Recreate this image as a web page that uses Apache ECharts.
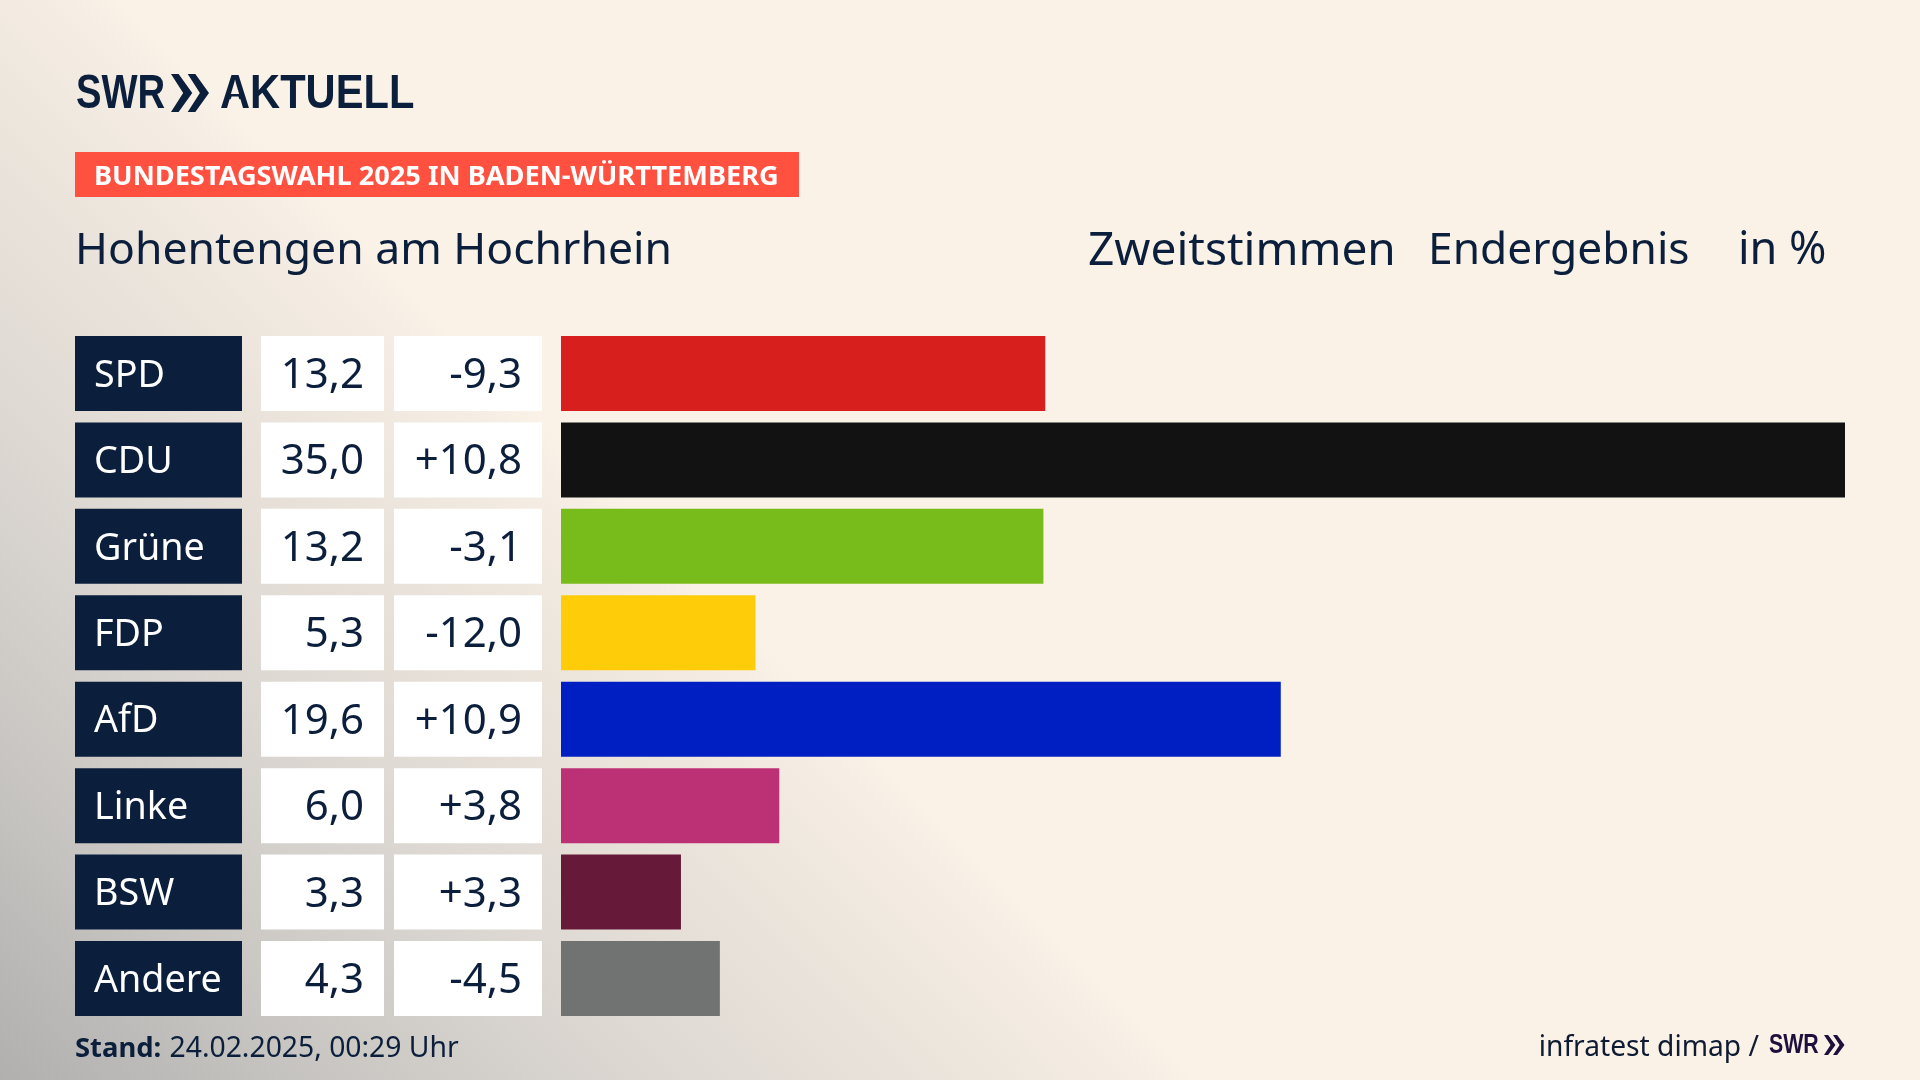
<!DOCTYPE html>
<html><head><meta charset="utf-8">
<style>
html,body{margin:0;padding:0;width:1920px;height:1080px;overflow:hidden;background:#FAF2E7}
body{background:linear-gradient(45deg,#B1B0AF 0px,#CDCAC6 283px,#DFDAD4 495px,#E9E2DA 636px,#F6EEE4 813px,#FAF2E7 848px)}
#c{width:1920px;height:1080px}
</style>
<script src="https://cdn.jsdelivr.net/npm/echarts@6/dist/echarts.min.js"></script>
</head><body><div id="c"></div>
<script>
const parties=['SPD','CDU','Grüne','FDP','AfD','Linke','BSW','Andere'];
const shares=[13.2,35.0,13.15,5.3,19.62,5.95,3.27,4.33];
const shareLabels=['13,2','35,0','13,2','5,3','19,6','6,0','3,3','4,3'];
const changeLabels=['-9,3','+10,8','-3,1','-12,0','+10,9','+3,8','+3,3','-4,5'];
const barColors=['#D71F1D','#121212','#78BC1B','#FFCC0A','#001FC2','#BC3175','#661938','#717272'];
const cells=[1,1,1,1,1,1,1,1];

const navy='#0B1F3C', FONT='"Noto Sans"', LOGO='"Liberation Sans"';
const top0=330.3, H=691.4, BW=75;
const columns=[[75,242],[261,384],[394,542],[561,1845]];
const grids=columns.map(c=>({left:c[0],width:c[1]-c[0],top:top0,height:H}));
const xAxes=columns.map((c,i)=>({gridIndex:i,type:'value',min:0,max:i===3?35:1,show:false}));
const yAxes=columns.map((c,i)=>({gridIndex:i,type:'category',data:parties,inverse:true,show:false}));
function cell(i,color,labelColor,pos,dist,texts,size){
  return {type:'bar',xAxisIndex:i,yAxisIndex:i,data:cells,barWidth:BW,silent:true,animation:false,
    itemStyle:{color},
    label:{show:true,position:pos,distance:dist,offset:[0,2.5],color:labelColor,fontFamily:FONT,fontSize:size,
      formatter:p=>texts[p.dataIndex]}};
}
function chevrons(x,y,w,h,fill){
  const one=x0=>({type:'polygon',silent:true,shape:{points:[[x0,y],[x0+w*0.2,y],[x0+w*0.56,y+h/2],[x0+w*0.2,y+h],[x0,y+h],[x0+w*0.32,y+h/2]]},style:{fill}});
  return [one(x),one(x+w*0.44)];
}
function txt(x,y,text,size,weight,family,fill,align,scaleX){
  return {type:'text',silent:true,x,y,scaleX:scaleX||1,style:{text,fontSize:size,fontWeight:weight,fontFamily:family,fill,align:align||'left',verticalAlign:'middle'}};
}
const chart=echarts.init(document.getElementById('c'),null,{renderer:'canvas'});
chart.setOption({
  animation:false,
  backgroundColor:'transparent',
  grid:grids,xAxis:xAxes,yAxis:yAxes,
  title:{text:'Hohentengen am Hochrhein',left:75,top:229,padding:0,textStyle:{fontFamily:FONT,fontSize:44.5,fontWeight:'normal',color:navy}},
  series:[
    cell(0,navy,'#FFFFFF','insideLeft',19,parties,37.7),
    cell(1,'#FFFFFF',navy,'insideRight',20,shareLabels,42),
    cell(2,'#FFFFFF',navy,'insideRight',20,changeLabels,42),
    {type:'bar',xAxisIndex:3,yAxisIndex:3,barWidth:BW,silent:true,animation:false,
     data:shares.map((v,i)=>({value:v,itemStyle:{color:barColors[i]}}))}
  ],
  graphic:[
    txt(76,94,'SWR',49,'bold',LOGO,navy,'left',0.78),
    ...chevrons(171,74,38,38,navy),
    txt(220,94,'AKTUELL',49,'bold',LOGO,navy,'left',0.85),
    {type:'polygon',silent:true,shape:{points:[[231.6,96.5],[238.4,96.5],[241,104],[229,104]]},style:{fill:'#FAF2E7'}},
    {type:'rect',silent:true,shape:{x:75,y:152,width:724,height:45},style:{fill:'#FF5040'}},
    txt(94,177.5,'BUNDESTAGSWAHL 2025 IN BADEN-WÜRTTEMBERG',27.2,'bold',FONT,'#FFFFFF'),
    txt(1088,251.5,'Zweitstimmen',46,'normal',FONT,navy),
    txt(1428,251.5,'Endergebnis',44.3,'normal',FONT,navy),
    txt(1738,251.5,'in %',45,'normal',FONT,navy),
    {type:'text',silent:true,x:75,y:1049,style:{text:'{b|Stand:} {r|24.02.2025, 00:29 Uhr}',verticalAlign:'middle',
      rich:{b:{fontFamily:FONT,fontSize:27.4,fontWeight:'bold',fill:navy},r:{fontFamily:FONT,fontSize:28.3,fill:navy,padding:[0,0,0,5]}}}},
    txt(1759,1048,'infratest dimap /',28.2,'normal',FONT,'#0E1B33','right'),
    txt(1769,1046,'SWR',27,'bold',LOGO,'#1F0F3D','left',0.79),
    ...chevrons(1824,1035,20.5,20,'#1F0F3D')
  ]
});
</script></body></html>
